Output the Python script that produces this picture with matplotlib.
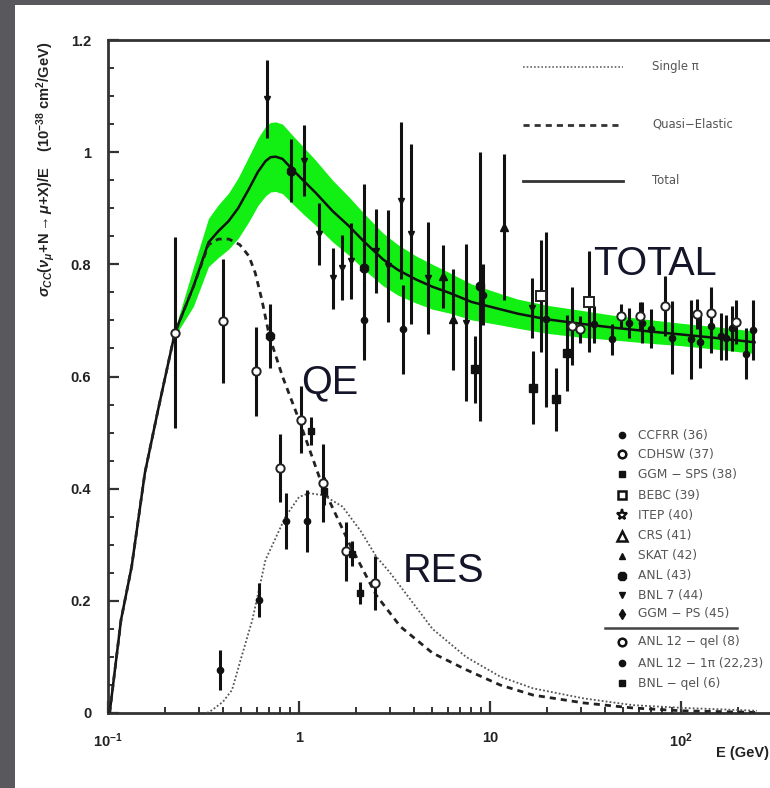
import numpy as np
import matplotlib
matplotlib.use("Agg")
import matplotlib.pyplot as plt
from matplotlib.patches import Rectangle
from matplotlib.ticker import MultipleLocator, LogLocator, NullFormatter, FixedLocator, FixedFormatter

plt.rcParams['font.family'] = ['Liberation Sans', 'DejaVu Sans']
plt.rcParams['mathtext.fontset'] = 'custom'
plt.rcParams['mathtext.rm'] = 'Liberation Sans:bold'
plt.rcParams['mathtext.it'] = 'Liberation Sans:bold:italic'
plt.rcParams['mathtext.bf'] = 'Liberation Sans:bold'

# ---------------- data ----------------
total_E = [0.102, 0.117, 0.133, 0.156, 0.183, 0.224, 0.28, 0.336, 0.378, 0.428, 0.48, 0.546, 0.61,
           0.668, 0.71, 0.754, 0.82, 0.92, 1.05, 1.22, 1.5, 1.83, 2.2, 2.75, 3.3, 4.1, 5.0, 6.15,
           8.0, 11.3, 14.0, 19.9, 30.0, 44.6, 70.0, 100.0, 150.0, 243.0]
total_v = [0.0, 0.166, 0.261, 0.428, 0.541, 0.678, 0.76, 0.839, 0.859, 0.877, 0.90, 0.934, 0.965,
           0.984, 0.991, 0.992, 0.988, 0.970, 0.950, 0.928, 0.895, 0.868, 0.840, 0.809, 0.790,
           0.773, 0.760, 0.749, 0.733, 0.720, 0.712, 0.702, 0.694, 0.687, 0.680, 0.675, 0.669, 0.661]
total_err = [0.0, 0.0, 0.0, 0.0, 0.0, 0.006, 0.035, 0.043, 0.047, 0.050, 0.054, 0.058, 0.060,
             0.062, 0.062, 0.062, 0.062, 0.061, 0.060, 0.058, 0.055, 0.052, 0.050, 0.047, 0.045,
             0.042, 0.040, 0.036, 0.032, 0.028, 0.026, 0.025, 0.024, 0.022, 0.021, 0.020, 0.020, 0.020]

qe_E = [0.102, 0.117, 0.133, 0.156, 0.183, 0.224, 0.28, 0.336, 0.378, 0.43, 0.49, 0.546, 0.59,
        0.64, 0.70, 0.82, 1.0, 1.33, 1.83, 2.54, 3.4, 5.0, 7.53, 11.3, 16.8, 30.9, 56.0, 100.0, 250.0]
qe_v = [0.0, 0.166, 0.261, 0.428, 0.541, 0.678, 0.76, 0.835, 0.845, 0.845, 0.835, 0.815, 0.785,
        0.736, 0.672, 0.600, 0.523, 0.404, 0.303, 0.210, 0.154, 0.107, 0.077, 0.050, 0.032,
        0.018, 0.009, 0.004, 0.001]

res_E = [0.33, 0.35, 0.40, 0.446, 0.50, 0.57, 0.668, 0.85, 1.0, 1.13, 1.35, 1.69, 2.1, 2.54,
         3.0, 3.78, 5.0, 7.5, 11.3, 16.8, 31.0, 56.0, 104.0, 250.0]
res_v = [0.0, 0.005, 0.020, 0.041, 0.100, 0.166, 0.273, 0.350, 0.385, 0.392, 0.388, 0.368,
         0.325, 0.279, 0.250, 0.205, 0.150, 0.100, 0.065, 0.044, 0.026, 0.014, 0.009, 0.004]

# data points: energy, value, error
anl_qel_E = [0.224, 0.398, 0.598, 0.794, 1.02, 1.34, 1.76, 2.51]
anl_qel_v = [0.678, 0.699, 0.609, 0.437, 0.523, 0.410, 0.288, 0.232]
anl_qel_e = [0.170, 0.110, 0.080, 0.060, 0.060, 0.070, 0.053, 0.048]

bnl_qel_E = [1.16, 1.35, 1.90, 2.10]
bnl_qel_v = [0.502, 0.395, 0.284, 0.214]
bnl_qel_e = [0.025, 0.025, 0.022, 0.020]

anl_1pi_E = [0.387, 0.616, 0.857, 1.106]
anl_1pi_v = [0.077, 0.202, 0.342, 0.342]
anl_1pi_e = [0.036, 0.030, 0.050, 0.055]

bnl7_E = [0.68, 1.06, 1.27, 1.50, 1.69, 1.87, 2.54, 2.92, 3.43, 3.86, 4.73, 7.53, 16.6]
bnl7_v = [1.095, 0.985, 0.854, 0.775, 0.794, 0.806, 0.824, 0.797, 0.913, 0.854, 0.776, 0.696, 0.722]
bnl7_e = [0.070, 0.064, 0.056, 0.054, 0.058, 0.067, 0.075, 0.100, 0.140, 0.160, 0.100, 0.140, 0.054]

anl_E = [0.703, 0.904, 2.20, 8.85]
anl_v = [0.672, 0.967, 0.794, 0.761]
anl_e = [0.057, 0.056, 0.150, 0.240]

skat_E = [5.67, 6.41, 11.9]
skat_v = [0.779, 0.702, 0.866]
skat_e = [0.056, 0.090, 0.130]

ggm_sps_E = [8.34, 16.9, 22.1, 25.3]
ggm_sps_v = [0.6125, 0.580, 0.559, 0.642]
ggm_sps_e = [0.060, 0.065, 0.057, 0.067]

bebc_E = [18.5, 32.9]
bebc_v = [0.743, 0.733]
bebc_e = [0.100, 0.090]

cdhsw_E = [26.9, 29.5, 48.3, 60.8, 82.6, 121.0, 144.0, 195.0]
cdhsw_v = [0.690, 0.684, 0.708, 0.708, 0.726, 0.711, 0.714, 0.697]
cdhsw_e = [0.070, 0.024, 0.021, 0.025, 0.053, 0.027, 0.046, 0.039]

ccfrr_E = [2.2, 3.5, 9.2, 19.6, 35.2, 43.4, 53.5, 62.8, 69.5, 90.3, 113.0, 126.0, 144.0, 162.0,
           173.0, 185.0, 218.0, 238.0]
ccfrr_v = [0.700, 0.684, 0.746, 0.702, 0.693, 0.666, 0.696, 0.696, 0.685, 0.669, 0.666, 0.661,
           0.690, 0.672, 0.669, 0.686, 0.641, 0.683]
ccfrr_e = [0.070, 0.080, 0.054, 0.156, 0.033, 0.028, 0.027, 0.036, 0.035, 0.065, 0.070, 0.046,
           0.048, 0.042, 0.040, 0.040, 0.045, 0.054]

y_ticks = [0, 0.2, 0.4, 0.6, 0.8, 1.0, 1.2]
y_ticklabels = ['0', '0.2', '0.4', '0.6', '0.8', '1', '1.2']
x_ticks = [0.1, 1, 10, 100]
x_ticklabels = [r'$\mathbf{10^{-1}}$', '1', '10', r'$\mathbf{10^{2}}$']

legend_curves = ['Single π', 'Quasi−Elastic', 'Total']
legend_exps = ['CCFRR (36)', 'CDHSW (37)', 'GGM − SPS (38)', 'BEBC (39)', 'ITEP (40)',
               'CRS (41)', 'SKAT (42)', 'ANL (43)', 'BNL 7 (44)', 'GGM − PS (45)']
legend_low = ['ANL 12 − qel (8)', 'ANL 12 − 1π (22,23)', 'BNL − qel (6)']

# ---------------- figure ----------------
W, H = 770, 788
fig = plt.figure(figsize=(W / 100, H / 100), dpi=100)
fig.patch.set_facecolor('#59585d')
fig.patches.append(Rectangle((15 / W, 0), (W - 15) / W, 1 - 5 / H, transform=fig.transFigure,
                             facecolor='white', edgecolor='none', zorder=-5))

x0, x1, ytop, ybot = 108, 772, 40, 713
ax = fig.add_axes([x0 / W, 1 - ybot / H, (x1 - x0) / W, (ybot - ytop) / H], zorder=1)
ax.set_facecolor('white')
ax.set_xscale('log')
ax.set_xlim(0.1, 300)
ax.set_ylim(0, 1.2)

# band and curves
tv = np.array(total_v)
te = np.array(total_err)
mask = te > 0
ax.fill_between(np.array(total_E)[mask], (tv - te)[mask], (tv + te)[mask],
                color='#12ef12', lw=0, zorder=1)
ax.plot(total_E, total_v, color='#111111', lw=1.8, zorder=3)
ax.plot(qe_E, qe_v, color='#222222', lw=2.0, ls=(0, (2.2, 1.8)), zorder=3)
ax.plot(res_E, res_v, color='#555555', lw=1.3, ls=(0, (1, 1.2)), zorder=3)

eb = dict(ls='none', ecolor='#111111', elinewidth=2.2, capsize=0, zorder=4)
ax.errorbar(ccfrr_E, ccfrr_v, yerr=ccfrr_e, marker='o', ms=4.5, mfc='#111', mec='#111', **eb)
ax.errorbar(cdhsw_E, cdhsw_v, yerr=cdhsw_e, marker='o', ms=6, mfc='white', mec='#222', mew=1.4, **eb)
ax.errorbar(ggm_sps_E, ggm_sps_v, yerr=ggm_sps_e, marker='s', ms=5.5, mfc='#111', mec='#111', **eb)
ax.errorbar(bebc_E, bebc_v, yerr=bebc_e, marker='s', ms=6.5, mfc='white', mec='#222', mew=1.4, **eb)
ax.errorbar(skat_E, skat_v, yerr=skat_e, marker='^', ms=5.5, mfc='#111', mec='#111', **eb)
ax.errorbar(anl_E, anl_v, yerr=anl_e, marker='8', ms=6, mfc='#111', mec='#111', **eb)
ax.errorbar(bnl7_E, bnl7_v, yerr=bnl7_e, marker='v', ms=5, mfc='#111', mec='#111', **eb)
ax.errorbar(anl_qel_E, anl_qel_v, yerr=anl_qel_e, marker='o', ms=6, mfc='white', mec='#222', mew=1.4, **eb)
ax.errorbar(anl_1pi_E, anl_1pi_v, yerr=anl_1pi_e, marker='o', ms=4.5, mfc='#111', mec='#111', **eb)
ax.errorbar(bnl_qel_E, bnl_qel_v, yerr=bnl_qel_e, marker='s', ms=5, mfc='#111', mec='#111', **eb)

# axes styling
for s in ['left', 'bottom', 'top']:
    ax.spines[s].set_linewidth(2)
    ax.spines[s].set_color('#333333')
ax.spines['right'].set_visible(False)
ax.yaxis.set_major_locator(FixedLocator(y_ticks))
ax.yaxis.set_major_formatter(FixedFormatter(y_ticklabels))
ax.yaxis.set_minor_locator(MultipleLocator(0.05))
ax.xaxis.set_major_locator(FixedLocator(x_ticks))
ax.xaxis.set_major_formatter(FixedFormatter(x_ticklabels))
ax.xaxis.set_minor_locator(LogLocator(base=10, subs=np.arange(2, 10)))
ax.xaxis.set_minor_formatter(NullFormatter())
ax.tick_params(which='both', direction='in', color='#333333', top=False, right=False)
ax.tick_params(axis='y', which='major', length=8, width=1.6, pad=12, labelsize=10.5,
               labelcolor='#222222')
ax.tick_params(axis='y', which='minor', length=4.3, width=1.4)
ax.tick_params(axis='x', which='major', length=9, width=1.6, pad=13, labelsize=10.5,
               labelcolor='#222222')
ax.tick_params(axis='x', which='minor', length=4, width=1.4)
for lab in ax.get_xticklabels() + ax.get_yticklabels():
    lab.set_fontweight('bold')

# ---------------- overlay (pixel coordinates) for legends and texts ----------------
ov = fig.add_axes([0, 0, 1, 1], zorder=10)
ov.set_xlim(0, W)
ov.set_ylim(H, 0)
ov.axis('off')
ov.patch.set_visible(False)

ov.plot([523, 623], [67, 67], color='#666666', lw=1.2, ls=(0, (1, 1.2)))
ov.plot([523, 623], [125, 125], color='#333333', lw=2.0, ls=(0, (2.2, 1.8)))
ov.plot([523, 623], [181, 181], color='#333333', lw=2.0)
for lab, yy in zip(legend_curves, [66, 124, 180]):
    ov.text(652, yy, lab, fontsize=8.4, color='#555555', va='center', ha='left',
            family=['DejaVu Sans'])

exp_y = [435, 454, 474, 495, 515, 536, 556, 576, 595, 614]
exp_m = [dict(marker='o', ms=4.5, mfc='#111', mec='#111'),
         dict(marker='o', ms=5.5, mfc='white', mec='#111', mew=1.8),
         dict(marker='s', ms=5, mfc='#111', mec='#111'),
         dict(marker='s', ms=6, mfc='white', mec='#111', mew=1.8),
         dict(marker='*', ms=8, mfc='white', mec='#111', mew=1.6),
         dict(marker='^', ms=6.5, mfc='white', mec='#111', mew=1.8),
         dict(marker='^', ms=4.5, mfc='#111', mec='#111'),
         dict(marker='8', ms=6.5, mfc='#111', mec='#111'),
         dict(marker='v', ms=5, mfc='#111', mec='#111'),
         dict(marker='d', ms=5, mfc='#111', mec='#111')]
for lab, yy, mk in zip(legend_exps, exp_y, exp_m):
    ov.plot([622], [yy], ls='none', **mk)
    ov.text(638, yy, lab, fontsize=8.8, color='#555555', va='center', ha='left',
            family=['DejaVu Sans'])
ov.plot([605, 737], [628, 628], color='#444444', lw=1.8)
low_y = [642, 663, 683]
low_m = [dict(marker='o', ms=5.5, mfc='white', mec='#111', mew=1.8),
         dict(marker='o', ms=4.5, mfc='#111', mec='#111'),
         dict(marker='s', ms=5, mfc='#111', mec='#111')]
for lab, yy, mk in zip(legend_low, low_y, low_m):
    ov.plot([622], [yy], ls='none', **mk)
    ov.text(638, yy, lab, fontsize=8.8, color='#555555', va='center', ha='left',
            family=['DejaVu Sans'])

big = dict(fontsize=28.5, color='#15152a', va='baseline', ha='left', family=['Liberation Sans'])
ov.text(593, 275, 'TOTAL', **big)
ov.text(301, 393, 'QE', **big)
ov.text(403, 582, 'RES', **big)

ov.text(769, 753, 'E (GeV)', fontsize=10.5, fontweight='bold', color='#222222',
        ha='right', va='center')
ov.text(46, 42, r'$\sigma_{CC}(\nu_{\mu}$+N$\rightarrow\mu$+X)/E    (10$^{-38}$ cm$^{2}$/GeV)',
        rotation=90, fontsize=10.5, fontweight='bold', color='#222222', ha='center', va='top')

fig.savefig('out.png', dpi=100, facecolor=fig.get_facecolor())
